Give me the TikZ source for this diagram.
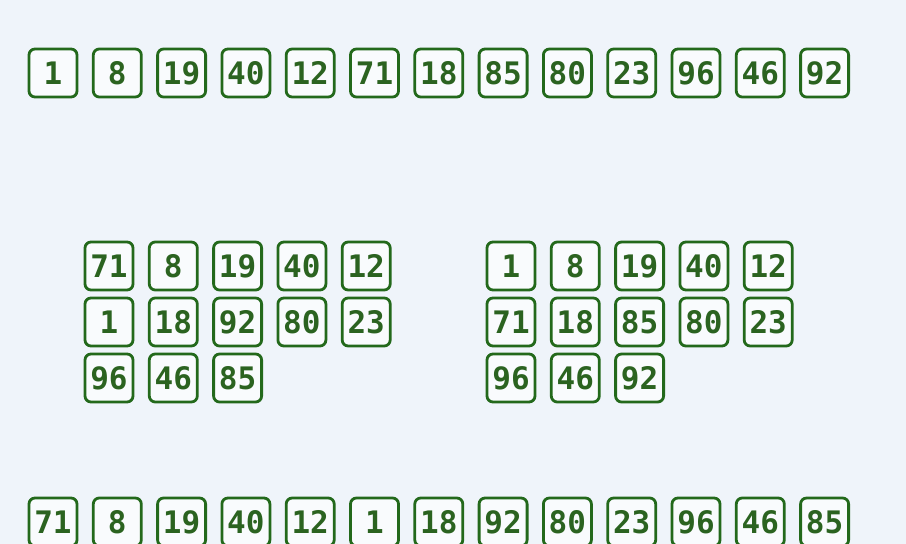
\documentclass[tikz,border=0pt]{standalone}
\usepackage{fontspec}
\setmonofont{DejaVu Sans Mono}
\definecolor{bg}{HTML}{EFF4FA}
\definecolor{gr}{HTML}{23691B}
\definecolor{tx}{HTML}{2B6320}
\begin{document}
\begin{tikzpicture}[x=1pt,y=-1pt,
  numbox/.style={draw=gr, line width=2.8pt, rounded corners=6pt, fill=white!60!bg,
    minimum width=48pt, minimum height=48pt, inner sep=0pt,
    text=tx, font=\ttfamily\bfseries\fontsize{31}{33}\selectfont}]
\fill[bg] (0,0) rectangle (906,544);
\clip (0,0) rectangle (906,544);
% top row
\foreach \v [count=\i from 0] in {1,8,19,40,12,71,18,85,80,23,96,46,92}
  \node[numbox] (t\i) at (53+64.3*\i,73) {\v};
% middle left
\foreach \v [count=\i from 0] in {71,8,19,40,12}
  \node[numbox] (la\i) at (109+64.3*\i,266) {\v};
\foreach \v [count=\i from 0] in {1,18,92,80,23}
  \node[numbox] (lb\i) at (109+64.3*\i,322) {\v};
\foreach \v [count=\i from 0] in {96,46,85}
  \node[numbox] (lc\i) at (109+64.3*\i,378) {\v};
% middle right
\foreach \v [count=\i from 0] in {1,8,19,40,12}
  \node[numbox] (ra\i) at (511+64.3*\i,266) {\v};
\foreach \v [count=\i from 0] in {71,18,85,80,23}
  \node[numbox] (rb\i) at (511+64.3*\i,322) {\v};
\foreach \v [count=\i from 0] in {96,46,92}
  \node[numbox] (rc\i) at (511+64.3*\i,378) {\v};
% bottom row
\foreach \v [count=\i from 0] in {71,8,19,40,12,1,18,92,80,23,96,46,85}
  \node[numbox] (b\i) at (53+64.3*\i,522) {\v};
\end{tikzpicture}
\end{document}
